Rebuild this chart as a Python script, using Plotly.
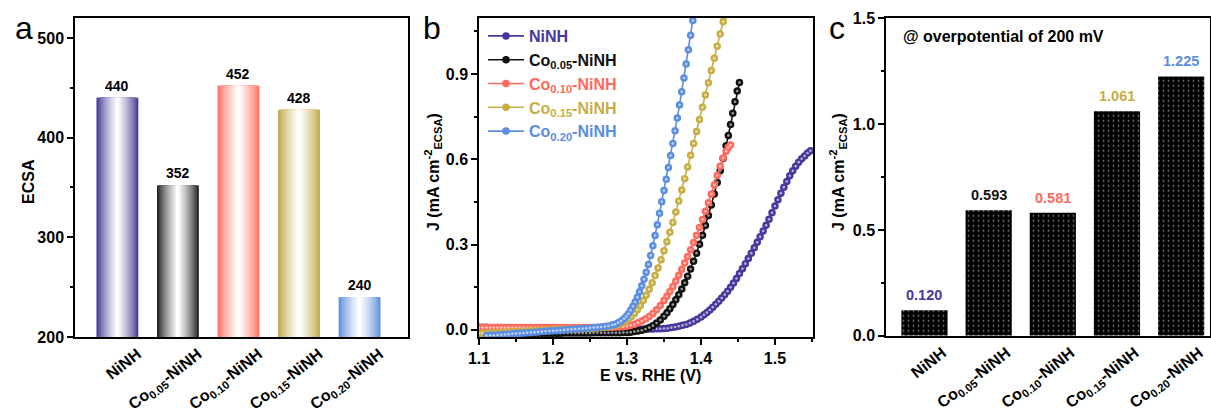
import plotly.graph_objects as go

FONT = "Arial, 'Liberation Sans', sans-serif"
W, H = 1211, 412

# ---------------- data ----------------
categories = ["NiNH", "Co<sub>0.05</sub>-NiNH", "Co<sub>0.10</sub>-NiNH",
              "Co<sub>0.15</sub>-NiNH", "Co<sub>0.20</sub>-NiNH"]
ecsa_values = [440, 352, 452, 428, 240]
ecsa_labels = ["440", "352", "452", "428", "240"]

j200_values = [0.120, 0.593, 0.581, 1.061, 1.225]
j200_labels = ["0.120", "0.593", "0.581", "1.061", "1.225"]

series_colors = ["#46389C", "#111111", "#FF6A5C", "#C6AE45", "#5B8DE0"]
bar_edge_colors = ["#3E3392", "#1A1A1A", "#FF6A5C", "#BDA742", "#5A8BDB"]

E_ninh = [1.100, 1.105, 1.110, 1.115, 1.120, 1.125, 1.130, 1.135, 1.140, 1.145,
          1.150, 1.155, 1.160, 1.165, 1.170, 1.175, 1.180, 1.185, 1.190, 1.195,
          1.200, 1.205, 1.210, 1.215, 1.220, 1.225, 1.230, 1.235, 1.240, 1.245,
          1.250, 1.255, 1.260, 1.265, 1.270, 1.275, 1.280, 1.285, 1.290, 1.295,
          1.300, 1.305, 1.310, 1.315, 1.320, 1.325, 1.330, 1.335, 1.340, 1.345,
          1.350, 1.355, 1.360, 1.365, 1.370, 1.375, 1.380, 1.385, 1.390, 1.395,
          1.400, 1.404, 1.408, 1.412, 1.416, 1.420, 1.424, 1.428, 1.432, 1.436,
          1.440, 1.444, 1.448, 1.452, 1.456, 1.460, 1.464, 1.468, 1.472, 1.476,
          1.480, 1.484, 1.488, 1.492, 1.496, 1.500, 1.504, 1.508, 1.512, 1.516,
          1.520, 1.524, 1.528, 1.532, 1.536, 1.540, 1.544, 1.548]
J_ninh = [0.009, 0.009, 0.009, 0.008, 0.008, 0.008, 0.008, 0.007, 0.007, 0.007,
          0.007, 0.006, 0.006, 0.006, 0.006, 0.005, 0.005, 0.005, 0.005, 0.005,
          0.004, 0.004, 0.004, 0.004, 0.004, 0.003, 0.003, 0.003, 0.003, 0.003,
          0.003, 0.002, 0.002, 0.002, 0.002, 0.002, 0.002, 0.002, 0.002, 0.002,
          0.002, 0.002, 0.002, 0.002, 0.002, 0.002, 0.003, 0.003, 0.004, 0.004,
          0.005, 0.006, 0.008, 0.010, 0.013, 0.016, 0.019, 0.024, 0.030, 0.037,
          0.045, 0.053, 0.061, 0.070, 0.080, 0.090, 0.101, 0.112, 0.124, 0.136,
          0.150, 0.165, 0.181, 0.198, 0.215, 0.233, 0.251, 0.270, 0.289, 0.308,
          0.328, 0.348, 0.368, 0.389, 0.412, 0.436, 0.458, 0.481, 0.502, 0.522,
          0.542, 0.560, 0.576, 0.590, 0.602, 0.612, 0.622, 0.630]

E_co05 = [1.100, 1.105, 1.110, 1.115, 1.120, 1.125, 1.130, 1.135, 1.140, 1.145,
          1.150, 1.155, 1.160, 1.165, 1.170, 1.175, 1.180, 1.185, 1.190, 1.195,
          1.200, 1.205, 1.210, 1.215, 1.220, 1.225, 1.230, 1.235, 1.240, 1.245,
          1.250, 1.255, 1.260, 1.265, 1.270, 1.275, 1.280, 1.285, 1.290, 1.295,
          1.300, 1.305, 1.310, 1.315, 1.320, 1.325, 1.330, 1.335, 1.340, 1.345,
          1.350, 1.354, 1.358, 1.362, 1.366, 1.370, 1.374, 1.378, 1.382, 1.386,
          1.390, 1.394, 1.398, 1.402, 1.406, 1.410, 1.414, 1.418, 1.422, 1.426,
          1.430, 1.434, 1.437, 1.440, 1.443, 1.446, 1.449, 1.452]
J_co05 = [-0.012, -0.012, -0.012, -0.012, -0.012, -0.012, -0.012, -0.012, -0.012, -0.012,
          -0.012, -0.012, -0.012, -0.012, -0.012, -0.012, -0.012, -0.012, -0.012, -0.012,
          -0.012, -0.012, -0.012, -0.011, -0.011, -0.011, -0.011, -0.011, -0.011, -0.011,
          -0.011, -0.010, -0.010, -0.010, -0.010, -0.010, -0.010, -0.010, -0.010, -0.009,
          -0.009, -0.008, -0.006, -0.004, -0.001, 0.003, 0.008, 0.015, 0.024, 0.035,
          0.048, 0.060, 0.074, 0.089, 0.106, 0.124, 0.144, 0.166, 0.189, 0.214,
          0.241, 0.270, 0.301, 0.333, 0.367, 0.402, 0.439, 0.478, 0.518, 0.560,
          0.603, 0.648, 0.684, 0.722, 0.762, 0.802, 0.840, 0.870]

E_co10 = [1.100, 1.105, 1.110, 1.115, 1.120, 1.125, 1.130, 1.135, 1.140, 1.145,
          1.150, 1.155, 1.160, 1.165, 1.170, 1.175, 1.180, 1.185, 1.190, 1.195,
          1.200, 1.205, 1.210, 1.215, 1.220, 1.225, 1.230, 1.235, 1.240, 1.245,
          1.250, 1.255, 1.260, 1.265, 1.270, 1.275, 1.280, 1.285, 1.290, 1.295,
          1.300, 1.305, 1.310, 1.315, 1.320, 1.325, 1.330, 1.335, 1.340, 1.345,
          1.350, 1.354, 1.358, 1.362, 1.366, 1.370, 1.374, 1.378, 1.382, 1.386,
          1.390, 1.394, 1.398, 1.402, 1.406, 1.410, 1.414, 1.418, 1.422, 1.426,
          1.430, 1.434, 1.437, 1.440]
J_co10 = [0.008, 0.008, 0.008, 0.008, 0.008, 0.008, 0.008, 0.008, 0.008, 0.008,
          0.008, 0.008, 0.008, 0.008, 0.008, 0.008, 0.008, 0.008, 0.008, 0.008,
          0.008, 0.008, 0.008, 0.008, 0.008, 0.008, 0.008, 0.008, 0.008, 0.008,
          0.008, 0.008, 0.008, 0.008, 0.009, 0.009, 0.009, 0.010, 0.010, 0.011,
          0.013, 0.016, 0.020, 0.025, 0.031, 0.038, 0.047, 0.058, 0.071, 0.086,
          0.103, 0.118, 0.135, 0.153, 0.172, 0.192, 0.213, 0.235, 0.258, 0.282,
          0.307, 0.333, 0.360, 0.388, 0.417, 0.447, 0.478, 0.510, 0.543, 0.576,
          0.605, 0.628, 0.641, 0.650]

E_co15 = [1.100, 1.105, 1.110, 1.115, 1.120, 1.125, 1.130, 1.135, 1.140, 1.145,
          1.150, 1.155, 1.160, 1.165, 1.170, 1.175, 1.180, 1.185, 1.190, 1.195,
          1.200, 1.205, 1.210, 1.215, 1.220, 1.225, 1.230, 1.235, 1.240, 1.245,
          1.250, 1.255, 1.260, 1.265, 1.270, 1.275, 1.280, 1.285,
          1.290, 1.294, 1.298, 1.302, 1.306, 1.310, 1.314, 1.318, 1.322, 1.326,
          1.330, 1.334, 1.338, 1.342, 1.346, 1.350, 1.354, 1.358, 1.362, 1.366,
          1.370, 1.374, 1.378, 1.382, 1.386, 1.390, 1.394, 1.398, 1.402, 1.406,
          1.410, 1.414, 1.418, 1.422, 1.426, 1.430, 1.432]
J_co15 = [-0.013, -0.012, -0.012, -0.011, -0.010, -0.010, -0.009, -0.008, -0.008, -0.007,
          -0.006, -0.006, -0.005, -0.004, -0.004, -0.003, -0.002, -0.002, -0.001, 0.000,
          0.000, 0.001, 0.001, 0.002, 0.002, 0.003, 0.003, 0.004, 0.004, 0.005,
          0.005, 0.006, 0.007, 0.008, 0.009, 0.011, 0.013, 0.016,
          0.020, 0.025, 0.031, 0.038, 0.047, 0.058, 0.071, 0.086, 0.103, 0.122,
          0.143, 0.166, 0.191, 0.218, 0.247, 0.278, 0.310, 0.343, 0.378, 0.415,
          0.453, 0.492, 0.532, 0.573, 0.614, 0.656, 0.698, 0.740, 0.783, 0.826,
          0.869, 0.912, 0.955, 0.998, 1.041, 1.084, 1.106]

E_co20 = [1.110, 1.115, 1.120, 1.125, 1.130, 1.135, 1.140, 1.145, 1.150, 1.155,
          1.160, 1.165, 1.170, 1.175, 1.180, 1.185, 1.190, 1.195, 1.200, 1.205,
          1.210, 1.215, 1.220, 1.225, 1.230, 1.235, 1.240, 1.245, 1.250, 1.255,
          1.260, 1.265, 1.270, 1.275, 1.280, 1.284, 1.288, 1.292, 1.296,
          1.299, 1.302, 1.305, 1.308, 1.311, 1.314, 1.317, 1.320, 1.323, 1.326,
          1.329, 1.332, 1.335, 1.338, 1.341, 1.344, 1.347, 1.350, 1.353, 1.356,
          1.359, 1.362, 1.365, 1.368, 1.371, 1.374, 1.377, 1.380, 1.383, 1.386,
          1.389, 1.391]
J_co20 = [-0.020, -0.019, -0.019, -0.018, -0.017, -0.016, -0.015, -0.014, -0.013, -0.012,
          -0.011, -0.010, -0.009, -0.008, -0.007, -0.006, -0.005, -0.004, -0.003, -0.002,
          -0.001, 0.000, 0.001, 0.002, 0.003, 0.004, 0.005, 0.006, 0.007, 0.008,
          0.009, 0.010, 0.012, 0.014, 0.017, 0.020, 0.025, 0.031, 0.039,
          0.047, 0.057, 0.069, 0.083, 0.098, 0.115, 0.134, 0.155, 0.178, 0.203,
          0.230, 0.262, 0.296, 0.332, 0.370, 0.410, 0.451, 0.490, 0.530, 0.571,
          0.613, 0.656, 0.700, 0.745, 0.791, 0.838, 0.886, 0.935, 0.985, 1.036,
          1.088, 1.123]

lsv_E = [E_ninh, E_co05, E_co10, E_co15, E_co20]
lsv_J = [J_ninh, J_co05, J_co10, J_co15, J_co20]
for e, j in zip(lsv_E, lsv_J):
    assert len(e) == len(j), (len(e), len(j))

# ---------------- helpers ----------------
def mix(hexc, t):
    r, g, b = int(hexc[1:3], 16), int(hexc[3:5], 16), int(hexc[5:7], 16)
    return "rgb(%d,%d,%d)" % (round(r + (255 - r) * t), round(g + (255 - g) * t), round(b + (255 - b) * t))

def fx(p):
    return p / W

def fy(p):
    return 1 - p / H

fig = go.Figure()

# ---------------- panel a: gradient bars ----------------
N = 22
bar_w = 0.69
for k in range(N):
    t = (k / (N - 1)) ** 0.75
    fig.add_trace(go.Bar(
        x=categories, y=ecsa_values, width=bar_w * (1 - k / N),
        marker=dict(color=[mix(c, t) for c in bar_edge_colors], line=dict(width=0)),
        xaxis="x", yaxis="y", showlegend=False, hoverinfo="skip"))

# ---------------- panel b: LSV curves ----------------
for name, e, j, c in zip(categories, lsv_E, lsv_J, series_colors):
    fig.add_trace(go.Scatter(
        x=e, y=j, mode="lines+markers",
        name='<span style="color:%s">%s</span>' % (c, name),
        line=dict(color=c, width=1.6),
        marker=dict(color=c, size=7.5, line=dict(width=0)),
        xaxis="x2", yaxis="y2"))
    fig.add_trace(go.Scatter(
        x=e, y=j, mode="markers",
        marker=dict(color=mix(c, 0.6) if c != "#111111" else "#9a9a9a", size=2.6, line=dict(width=0)),
        xaxis="x2", yaxis="y2", showlegend=False, hoverinfo="skip"))

# ---------------- panel c: patterned bars ----------------
fig.add_trace(go.Bar(
    x=categories, y=j200_values, width=0.72,
    marker=dict(color="black", line=dict(width=0),
                pattern=dict(shape=".", fgcolor="white", bgcolor="black", size=5, solidity=0.1)),
    xaxis="x3", yaxis="y3", showlegend=False, hoverinfo="skip"))

# ---------------- layout ----------------
axis_common = dict(showline=True, linecolor="black", linewidth=1.5, mirror=True,
                   ticks="outside", ticklen=6, tickwidth=1.5, tickcolor="black",
                   showgrid=False, zeroline=False, automargin=False,
                   tickfont=dict(family=FONT, size=16, color="black", weight="bold"))
inner_common = dict(showline=False, ticks="inside", ticklen=5, tickwidth=1.5, tickcolor="black",
                    showgrid=False, zeroline=False, showticklabels=False, automargin=False)
cat_tickfont = dict(family=FONT, size=16, color="black", weight="bold")

dom_a = [fx(75), fx(408)]
dom_b = [fx(479), fx(813)]
dom_c = [fx(886), fx(1210)]
dom_y = [fy(337), fy(18)]
dom_yc = [fy(335.7), fy(18.3)]

fig.update_layout(
    width=W, height=H, margin=dict(l=0, r=0, t=0, b=0, pad=0, autoexpand=False),
    paper_bgcolor="white", plot_bgcolor="white", barmode="overlay",
    font=dict(family=FONT, color="black"),
    xaxis=dict(axis_common, domain=dom_a, anchor="y", type="category", range=[-0.7, 4.8],
               ticks="", tickangle=-38, ticklabelshift=20, tickfont=cat_tickfont),
    yaxis=dict(axis_common, domain=dom_y, anchor="x", range=[200, 520], dtick=100, tick0=200,
               minor=dict(ticks="outside", ticklen=3.5, tickwidth=1.5, tickcolor="black", dtick=50)),
    xaxis4=dict(inner_common, overlaying="x", side="top", anchor="y", range=[-0.7, 4.8],
                tickvals=list(range(len(categories)))),
    yaxis4=dict(inner_common, overlaying="y", side="right", anchor="x", range=[200, 520], dtick=100, tick0=200,
                minor=dict(ticks="inside", ticklen=3, tickwidth=1.5, tickcolor="black", dtick=50)),

    xaxis2=dict(axis_common, domain=dom_b, anchor="y2", range=[1.1, 1.5514], dtick=0.1, tick0=1.1,
                tickformat=".1f",
                minor=dict(ticks="outside", ticklen=3.5, tickwidth=1.5, tickcolor="black", dtick=0.05)),
    yaxis2=dict(axis_common, domain=dom_y, anchor="x2", range=[-0.025, 1.097], dtick=0.3, tick0=0,
                tickformat=".1f",
                minor=dict(ticks="outside", ticklen=3.5, tickwidth=1.5, tickcolor="black", dtick=0.15)),
    xaxis5=dict(inner_common, overlaying="x2", side="top", anchor="y2", range=[1.1, 1.5514], dtick=0.1,
                tick0=1.1, minor=dict(ticks="inside", ticklen=3, tickwidth=1.5, tickcolor="black", dtick=0.05)),
    yaxis5=dict(inner_common, overlaying="y2", side="right", anchor="x2", range=[-0.025, 1.097], dtick=0.3,
                tick0=0, minor=dict(ticks="inside", ticklen=3, tickwidth=1.5, tickcolor="black", dtick=0.15)),

    xaxis3=dict(axis_common, domain=dom_c, anchor="y3", type="category", range=[-0.6, 4.45],
                ticks="", tickangle=-38, ticklabelshift=18, tickfont=cat_tickfont),
    yaxis3=dict(axis_common, domain=dom_yc, anchor="x3", range=[0, 1.5], dtick=0.5, tick0=0,
                tickformat=".1f",
                minor=dict(ticks="outside", ticklen=3.5, tickwidth=1.5, tickcolor="black", dtick=0.25)),

    legend=dict(x=fx(483), y=fy(19), xanchor="left", yanchor="top", bgcolor="rgba(0,0,0,0)",
                font=dict(family=FONT, size=16, weight="bold"), tracegroupgap=0, itemwidth=36),
)

ann = []
# panel letters
for letter, xp in [("a", 23.5), ("b", 432), ("c", 836.5)]:
    ann.append(dict(text=letter, x=fx(xp), y=fy(28), xref="paper", yref="paper",
                    xanchor="center", yanchor="middle", showarrow=False,
                    font=dict(family=FONT, size=32, color="black")))
# axis titles
title_font = dict(family=FONT, size=16, color="black", weight="bold")
ann.append(dict(text="ECSA", x=fx(28), y=fy(182), xref="paper", yref="paper", textangle=-90,
                showarrow=False, xanchor="center", yanchor="middle", font=title_font))
ann.append(dict(text="J (mA cm<sup>-2</sup><sub>ECSA</sub>)", x=fx(433), y=fy(172), xref="paper", yref="paper",
                textangle=-90, showarrow=False, xanchor="center", yanchor="middle", font=title_font))
ann.append(dict(text="J (mA cm<sup>-2</sup><sub>ECSA</sub>)", x=fx(838), y=fy(172), xref="paper", yref="paper",
                textangle=-90, showarrow=False, xanchor="center", yanchor="middle", font=title_font))
ann.append(dict(text="E vs. RHE (V)", x=fx(650), y=fy(375), xref="paper", yref="paper",
                showarrow=False, xanchor="center", yanchor="middle", font=title_font))
ann.append(dict(text="@ overpotential of 200 mV", x=fx(901), y=fy(37), xref="paper", yref="paper",
                showarrow=False, xanchor="left", yanchor="middle", font=title_font))
# bar value labels
for cat, v, lab in zip(categories, ecsa_values, ecsa_labels):
    ann.append(dict(text=lab, x=cat, y=v, xref="x", yref="y", yshift=12, showarrow=False,
                    xanchor="center", yanchor="middle",
                    font=dict(family=FONT, size=14, color="black", weight="bold")))
for cat, v, lab, c in zip(categories, j200_values, j200_labels, series_colors):
    ann.append(dict(text=lab, x=cat, y=v, xref="x3", yref="y3", yshift=15, showarrow=False,
                    xanchor="center", yanchor="middle",
                    font=dict(family=FONT, size=14.5, color=c, weight="bold")))
fig.update_layout(annotations=ann)

fig.write_html("out.html")
